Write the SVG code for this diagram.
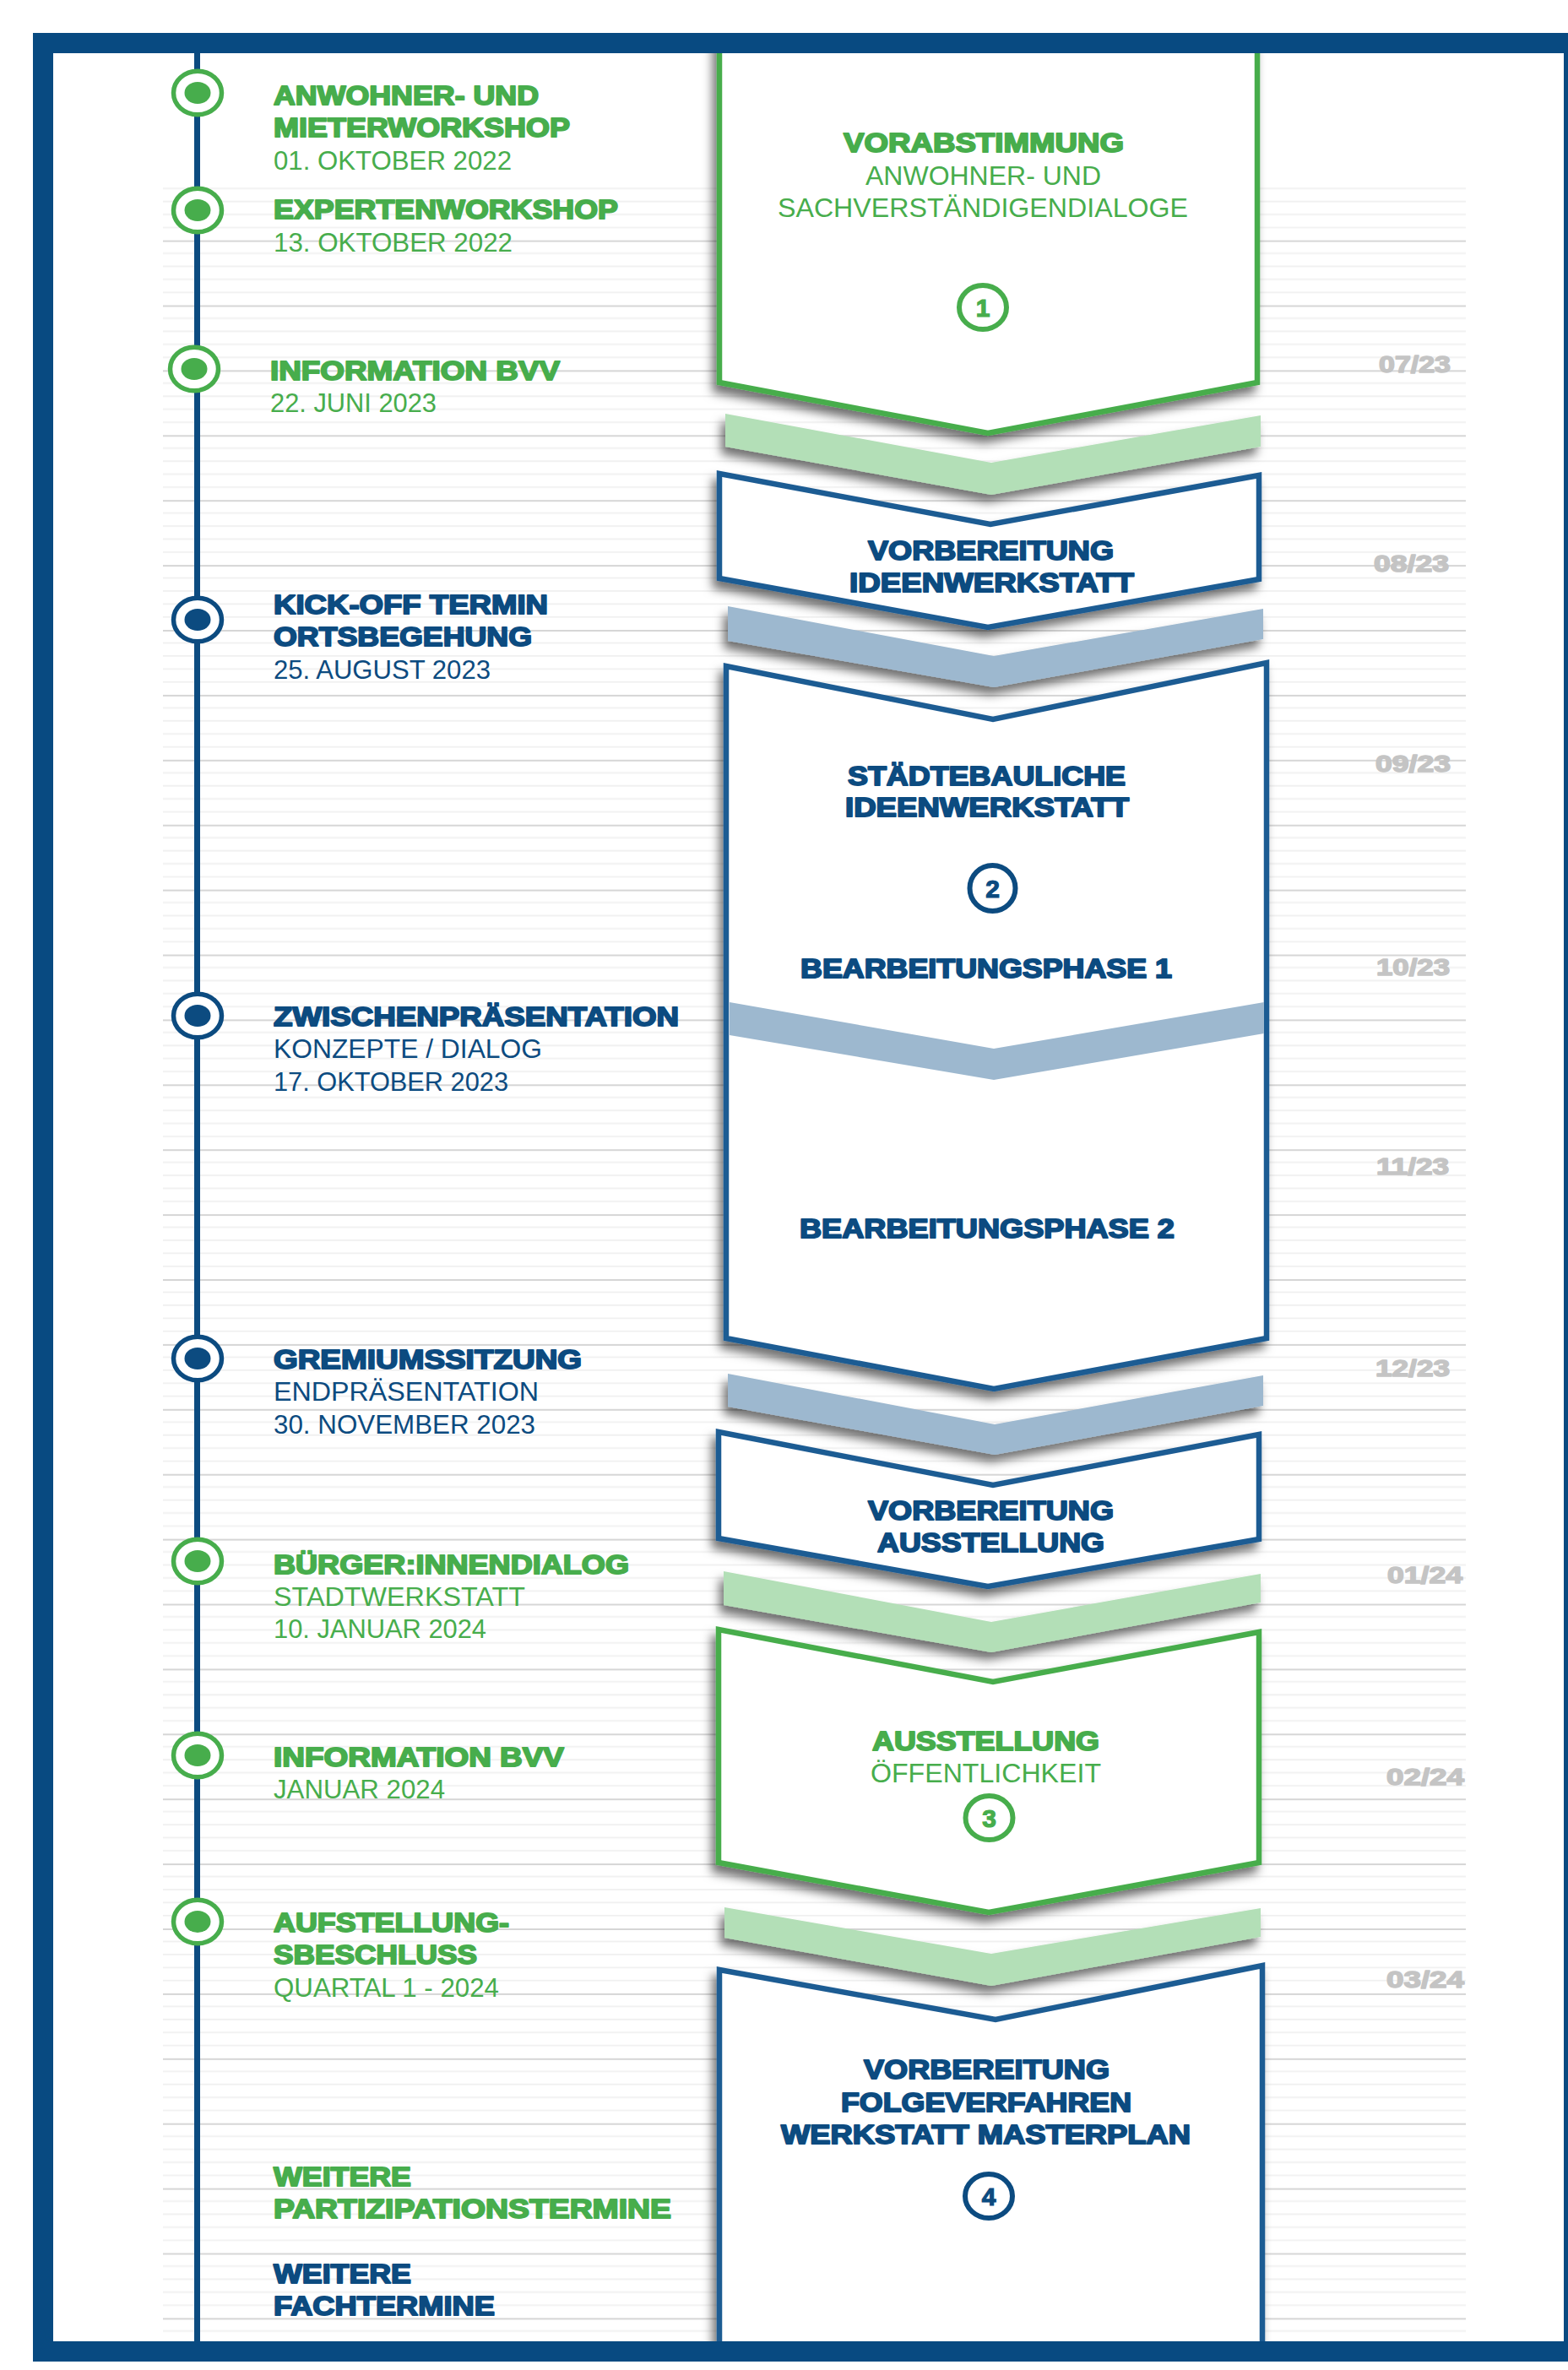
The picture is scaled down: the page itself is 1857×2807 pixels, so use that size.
<svg xmlns="http://www.w3.org/2000/svg" width="1857" height="2807" viewBox="0 0 1857 2807">
<defs>
<style>
.b{font-family:"Liberation Sans",Arial,sans-serif;font-weight:700;font-size:31.5px;stroke-width:1.9px;stroke-linejoin:round}
.r{font-family:"Liberation Sans",Arial,sans-serif;font-weight:400;font-size:31px}
.g{fill:#47ad4c}
.b.g,.dg.g{stroke:#47ad4c}
.n{fill:#0c4b80}
.b.n,.dg.n{stroke:#0c4b80}
.d{font-family:"Liberation Sans",Arial,sans-serif;font-weight:700;font-size:28.5px;fill:#c4c4c4;stroke:#c4c4c4;stroke-width:1.6px;stroke-linejoin:round}
.dg{font-family:"Liberation Sans",Arial,sans-serif;font-weight:700;font-size:30px;text-anchor:middle;stroke-width:1.2px}
.shg{fill:#fff;stroke:#47ad4c;stroke-width:6.5;stroke-linejoin:miter}
.shb{fill:#fff;stroke:#1f5c93;stroke-width:6.5;stroke-linejoin:miter}
.bg{fill:#b3dfb7}
.bb{fill:#9db8cf}
.tg{fill:#fff;stroke:#47ad4c;stroke-width:5.5}
.tb{fill:#fff;stroke:#0c4b80;stroke-width:5.5}
.cg{fill:none;stroke:#47ad4c;stroke-width:6}
.cb{fill:none;stroke:#0c4b80;stroke-width:6}
</style>
<filter id="sh" x="-20%" y="-20%" width="140%" height="150%">
<feDropShadow dx="-5" dy="9" stdDeviation="6" flood-color="#000" flood-opacity="0.55"/>
</filter>
<clipPath id="inside">
<rect x="0" y="55" width="1857" height="2725"/>
</clipPath>
<pattern id="grid" patternUnits="userSpaceOnUse" x="193" y="207.7" width="1543" height="76.9">
<rect x="0" y="0" width="1543" height="2" fill="#d6d6d6"/>
<rect x="0" y="14.6" width="1543" height="1.8" fill="#f0f0f0"/>
<rect x="0" y="30" width="1543" height="1.8" fill="#f0f0f0"/>
<rect x="0" y="45.4" width="1543" height="1.8" fill="#f0f0f0"/>
<rect x="0" y="60.8" width="1543" height="1.8" fill="#f0f0f0"/>
</pattern>
</defs>
<rect x="0" y="0" width="1857" height="2807" fill="#fff"/>
<rect x="193" y="216" width="1543" height="2557" fill="url(#grid)"/>

<g id="month-labels">
<text class="d" x="1633" y="441" textLength="85" lengthAdjust="spacingAndGlyphs">07/23</text>
<text class="d" x="1627" y="677" textLength="89" lengthAdjust="spacingAndGlyphs">08/23</text>
<text class="d" x="1629" y="914" textLength="89" lengthAdjust="spacingAndGlyphs">09/23</text>
<text class="d" x="1630" y="1155" textLength="87" lengthAdjust="spacingAndGlyphs">10/23</text>
<text class="d" x="1630" y="1391" textLength="86" lengthAdjust="spacingAndGlyphs">11/23</text>
<text class="d" x="1629" y="1630" textLength="88" lengthAdjust="spacingAndGlyphs">12/23</text>
<text class="d" x="1643" y="1875" textLength="89" lengthAdjust="spacingAndGlyphs">01/24</text>
<text class="d" x="1642" y="2114" textLength="92" lengthAdjust="spacingAndGlyphs">02/24</text>
<text class="d" x="1642" y="2354" textLength="92" lengthAdjust="spacingAndGlyphs">03/24</text>
</g>

<g clip-path="url(#inside)">
<g id="connectors" filter="url(#sh)">
<polygon class="bg" points="859,490 1174,548 1493,492 1493,529 1174,586 859,529"/>
<polygon class="bb" points="862,718 1177,777 1496,721 1496,757 1177,814 862,759"/>
<polygon class="bb" points="862,1627 1178,1687 1496,1629 1496,1665 1178,1723 862,1666"/>
<polygon class="bg" points="857,1861 1174,1921 1493,1864 1493,1898 1174,1957 857,1901"/>
<polygon class="bg" points="858,2259 1174,2314 1493,2260 1493,2294 1174,2352 858,2295"/>
</g>

<g id="phase1">
<polygon class="shg" filter="url(#sh)" points="852,20 1489,20 1489,453 1170,513 852,453"/>
<text class="b g" x="999" y="180" textLength="332" lengthAdjust="spacingAndGlyphs">VORABSTIMMUNG</text>
<text class="r g" x="1025" y="219" textLength="279" lengthAdjust="spacingAndGlyphs">ANWOHNER- UND</text>
<text class="r g" x="921" y="257" textLength="486" lengthAdjust="spacingAndGlyphs">SACHVERSTÄNDIGENDIALOGE</text>
<ellipse class="cg" cx="1164" cy="364" rx="28" ry="26"/>
<text class="dg g" x="1164" y="375">1</text>
</g>

<g id="phase-vorbereitung-ideenwerkstatt">
<polygon class="shb" filter="url(#sh)" points="852,561 1173,621 1491,563 1491,686 1170,743 852,685"/>
<text class="b n" x="1028" y="663" textLength="291" lengthAdjust="spacingAndGlyphs">VORBEREITUNG</text>
<text class="b n" x="1006" y="701" textLength="337" lengthAdjust="spacingAndGlyphs">IDEENWERKSTATT</text>
</g>

<g id="phase2">
<polygon class="shb" filter="url(#sh)" points="860,789 1176,852 1500,785 1500,1585 1177,1645 860,1585"/>
<polygon class="bb" points="864,1187 1177,1242 1497,1187 1497,1224 1177,1279 864,1226"/>
<text class="b n" x="1004" y="930" textLength="329" lengthAdjust="spacingAndGlyphs">STÄDTEBAULICHE</text>
<text class="b n" x="1001" y="967" textLength="336" lengthAdjust="spacingAndGlyphs">IDEENWERKSTATT</text>
<circle class="cb" cx="1175.5" cy="1052" r="27"/>
<text class="dg n" x="1175.5" y="1063">2</text>
<text class="b n" x="948" y="1158" textLength="440" lengthAdjust="spacingAndGlyphs">BEARBEITUNGSPHASE 1</text>
<text class="b n" x="947" y="1466" textLength="444" lengthAdjust="spacingAndGlyphs">BEARBEITUNGSPHASE 2</text>
</g>

<g id="phase-vorbereitung-ausstellung">
<polygon class="shb" filter="url(#sh)" points="851,1696 1176,1759 1491,1699 1491,1823 1170,1879 851,1822"/>
<text class="b n" x="1028" y="1800" textLength="291" lengthAdjust="spacingAndGlyphs">VORBEREITUNG</text>
<text class="b n" x="1039" y="1838" textLength="269" lengthAdjust="spacingAndGlyphs">AUSSTELLUNG</text>
</g>

<g id="phase3">
<polygon class="shg" filter="url(#sh)" points="851,1930 1176,1992 1491,1933 1491,2206 1171,2265 851,2206"/>
<text class="b g" x="1033" y="2073" textLength="269" lengthAdjust="spacingAndGlyphs">AUSSTELLUNG</text>
<text class="r g" x="1031" y="2111" textLength="273" lengthAdjust="spacingAndGlyphs">ÖFFENTLICHKEIT</text>
<ellipse class="cg" cx="1171.5" cy="2153" rx="28" ry="26"/>
<text class="dg g" x="1171.5" y="2164">3</text>
</g>

<g id="phase4">
<polygon class="shb" filter="url(#sh)" points="852,2333 1179,2392 1495,2328 1495,2830 852,2830"/>
<text class="b n" x="1023" y="2462" textLength="291" lengthAdjust="spacingAndGlyphs">VORBEREITUNG</text>
<text class="b n" x="996" y="2501" textLength="344" lengthAdjust="spacingAndGlyphs">FOLGEVERFAHREN</text>
<text class="b n" x="925" y="2539" textLength="485" lengthAdjust="spacingAndGlyphs">WERKSTATT MASTERPLAN</text>
<ellipse class="cb" cx="1171" cy="2601" rx="28" ry="26"/>
<text class="dg n" x="1171" y="2612">4</text>
</g>
</g>

<rect id="timeline-line" x="230" y="50" width="7" height="2740" fill="#0c4b80"/>

<g id="event-anwohnerworkshop">
<ellipse class="tg" cx="234" cy="110" rx="28.5" ry="25.7"/>
<ellipse class="g" cx="234" cy="110" rx="15.5" ry="13"/>
<text class="b g" x="324" y="124" textLength="314" lengthAdjust="spacingAndGlyphs">ANWOHNER- UND</text>
<text class="b g" x="324" y="162" textLength="351" lengthAdjust="spacingAndGlyphs">MIETERWORKSHOP</text>
<text class="r g" x="324" y="201" textLength="282" lengthAdjust="spacingAndGlyphs">01. OKTOBER 2022</text>
</g>
<g id="event-expertenworkshop">
<ellipse class="tg" cx="234" cy="249" rx="28.5" ry="25.7"/>
<ellipse class="g" cx="234" cy="249" rx="15.5" ry="13"/>
<text class="b g" x="324" y="259" textLength="408" lengthAdjust="spacingAndGlyphs">EXPERTENWORKSHOP</text>
<text class="r g" x="324" y="298" textLength="283" lengthAdjust="spacingAndGlyphs">13. OKTOBER 2022</text>
</g>
<g id="event-information-bvv-1">
<ellipse class="tg" cx="230" cy="437" rx="28.5" ry="25.7"/>
<ellipse class="g" cx="230" cy="437" rx="15.5" ry="13"/>
<text class="b g" x="320" y="450" textLength="343" lengthAdjust="spacingAndGlyphs">INFORMATION BVV</text>
<text class="r g" x="320" y="488" textLength="197" lengthAdjust="spacingAndGlyphs">22. JUNI 2023</text>
</g>
<g id="event-kickoff">
<ellipse class="tb" cx="234" cy="734" rx="28.5" ry="25.7"/>
<ellipse class="n" cx="234" cy="734" rx="15.5" ry="13"/>
<text class="b n" x="324" y="727" textLength="325" lengthAdjust="spacingAndGlyphs">KICK-OFF TERMIN</text>
<text class="b n" x="324" y="765" textLength="306" lengthAdjust="spacingAndGlyphs">ORTSBEGEHUNG</text>
<text class="r n" x="324" y="804" textLength="257" lengthAdjust="spacingAndGlyphs">25. AUGUST 2023</text>
</g>
<g id="event-zwischenpraesentation">
<ellipse class="tb" cx="234" cy="1203" rx="28.5" ry="25.7"/>
<ellipse class="n" cx="234" cy="1203" rx="15.5" ry="13"/>
<text class="b n" x="324" y="1215" textLength="480" lengthAdjust="spacingAndGlyphs">ZWISCHENPRÄSENTATION</text>
<text class="r n" x="324" y="1253" textLength="318" lengthAdjust="spacingAndGlyphs">KONZEPTE / DIALOG</text>
<text class="r n" x="324" y="1292" textLength="278" lengthAdjust="spacingAndGlyphs">17. OKTOBER 2023</text>
</g>
<g id="event-gremiumssitzung">
<ellipse class="tb" cx="234" cy="1609" rx="28.5" ry="25.7"/>
<ellipse class="n" cx="234" cy="1609" rx="15.5" ry="13"/>
<text class="b n" x="324" y="1621" textLength="365" lengthAdjust="spacingAndGlyphs">GREMIUMSSITZUNG</text>
<text class="r n" x="324" y="1659" textLength="314" lengthAdjust="spacingAndGlyphs">ENDPRÄSENTATION</text>
<text class="r n" x="324" y="1698" textLength="310" lengthAdjust="spacingAndGlyphs">30. NOVEMBER 2023</text>
</g>
<g id="event-buergerdialog">
<ellipse class="tg" cx="234" cy="1849" rx="28.5" ry="25.7"/>
<ellipse class="g" cx="234" cy="1849" rx="15.5" ry="13"/>
<text class="b g" x="324" y="1864" textLength="421" lengthAdjust="spacingAndGlyphs">BÜRGER:INNENDIALOG</text>
<text class="r g" x="324" y="1902" textLength="298" lengthAdjust="spacingAndGlyphs">STADTWERKSTATT</text>
<text class="r g" x="324" y="1940" textLength="252" lengthAdjust="spacingAndGlyphs">10. JANUAR 2024</text>
</g>
<g id="event-information-bvv-2">
<ellipse class="tg" cx="234" cy="2079" rx="28.5" ry="25.7"/>
<ellipse class="g" cx="234" cy="2079" rx="15.5" ry="13"/>
<text class="b g" x="324" y="2092" textLength="344" lengthAdjust="spacingAndGlyphs">INFORMATION BVV</text>
<text class="r g" x="324" y="2130" textLength="203" lengthAdjust="spacingAndGlyphs">JANUAR 2024</text>
</g>
<g id="event-aufstellungsbeschluss">
<ellipse class="tg" cx="234" cy="2276" rx="28.5" ry="25.7"/>
<ellipse class="g" cx="234" cy="2276" rx="15.5" ry="13"/>
<text class="b g" x="324" y="2288" textLength="279" lengthAdjust="spacingAndGlyphs">AUFSTELLUNG-</text>
<text class="b g" x="324" y="2326" textLength="241" lengthAdjust="spacingAndGlyphs">SBESCHLUSS</text>
<text class="r g" x="324" y="2365" textLength="267" lengthAdjust="spacingAndGlyphs">QUARTAL 1 - 2024</text>
</g>
<g id="note-partizipation">
<text class="b g" x="324" y="2589" textLength="163" lengthAdjust="spacingAndGlyphs">WEITERE</text>
<text class="b g" x="324" y="2627" textLength="471" lengthAdjust="spacingAndGlyphs">PARTIZIPATIONSTERMINE</text>
</g>
<g id="note-fachtermine">
<text class="b n" x="324" y="2704" textLength="163" lengthAdjust="spacingAndGlyphs">WEITERE</text>
<text class="b n" x="324" y="2742" textLength="262" lengthAdjust="spacingAndGlyphs">FACHTERMINE</text>
</g>

<rect id="frame" x="51" y="51" width="1813" height="2734" fill="none" stroke="#084a81" stroke-width="24"/>
</svg>
